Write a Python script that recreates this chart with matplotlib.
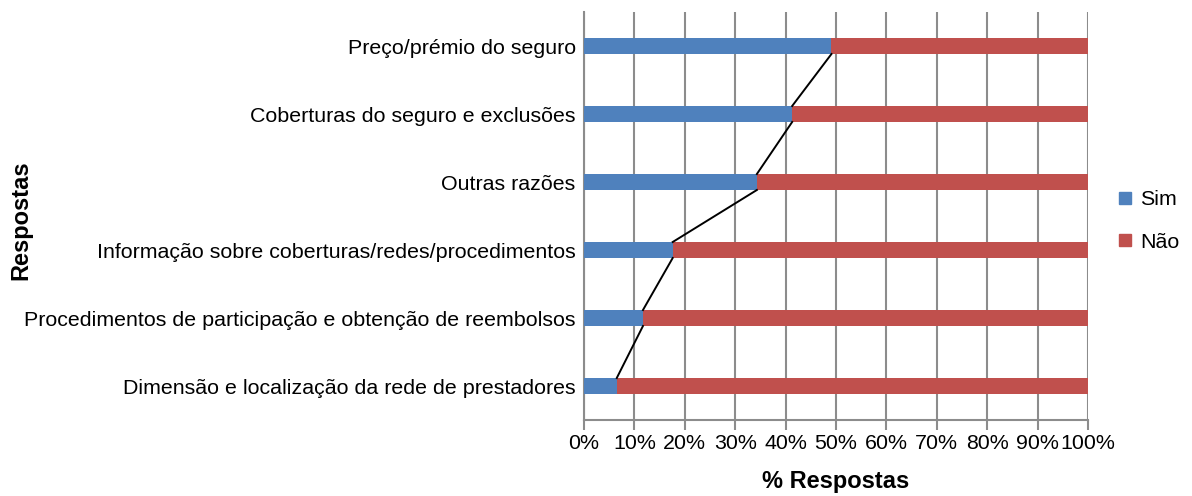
import matplotlib.pyplot as plt
from matplotlib.ticker import PercentFormatter
from matplotlib.lines import Line2D

plt.rcParams['font.family'] = ['Liberation Sans', 'DejaVu Sans']

# data (bottom to top)
razoes = ["Dimensão e localização da rede de prestadores",
          "Procedimentos de participação e obtenção de reembolsos",
          "Informação sobre coberturas/redes/procedimentos",
          "Outras razões",
          "Coberturas do seguro e exclusões",
          "Preço/prémio do seguro"]
sim = [6.5, 11.7, 17.6, 34.3, 41.3, 49.1]
nao = [100 - s for s in sim]

blue = '#4F81BD'
red = '#C0504D'
grid = '#8C8C8C'

fig = plt.figure(figsize=(11.92, 4.96), dpi=100)
ax = fig.add_axes([584/1192, 76/496, 504/1192, 408/496])

y = list(range(len(razoes)))
h = 0.235
ax.barh(y, sim, height=h, color=blue, label='Sim', zorder=3)
ax.barh(y, nao, left=sim, height=h, color=red, label='Não', zorder=3)

# series lines between bars
for i in range(len(y) - 1):
    ax.plot([sim[i], sim[i + 1]], [y[i] + h / 2, y[i + 1] - h / 2],
            color='black', lw=1.4, zorder=4)

ax.set_xlim(0, 100)
ax.set_ylim(-0.5, len(razoes) - 0.5)
ax.set_xticks(range(0, 101, 10))
ax.xaxis.set_major_formatter(PercentFormatter(decimals=0))
ax.set_yticks(y)
ax.set_yticklabels(razoes)
ax.tick_params(axis='y', length=0, labelsize=15.4, pad=6)
ax.tick_params(axis='x', length=7, width=1.5, color=grid, labelsize=15.4, pad=3)
ax.grid(axis='x', color=grid, lw=1.5, zorder=0)

for s in ['top', 'right']:
    ax.spines[s].set_visible(False)
for s in ['left', 'bottom']:
    ax.spines[s].set_color(grid)
    ax.spines[s].set_linewidth(1.5)

ax.set_xlabel('% Respostas', fontsize=17, fontweight='bold', labelpad=12)
fig.text(21/1192, 1 - 220/496, 'Respostas', rotation=90, fontsize=17,
         fontweight='bold', ha='center', va='center')

handles = [Line2D([], [], marker='s', ls='', color=blue, markersize=9),
           Line2D([], [], marker='s', ls='', color=red, markersize=9)]
fig.legend(handles, ['Sim', 'Não'], loc='center left',
           bbox_to_anchor=(1094/1192, 1 - 221/496), frameon=False,
           fontsize=15.4, handletextpad=0.15, labelspacing=1.1, handlelength=1.1)

fig.savefig('out.png', dpi=100)
